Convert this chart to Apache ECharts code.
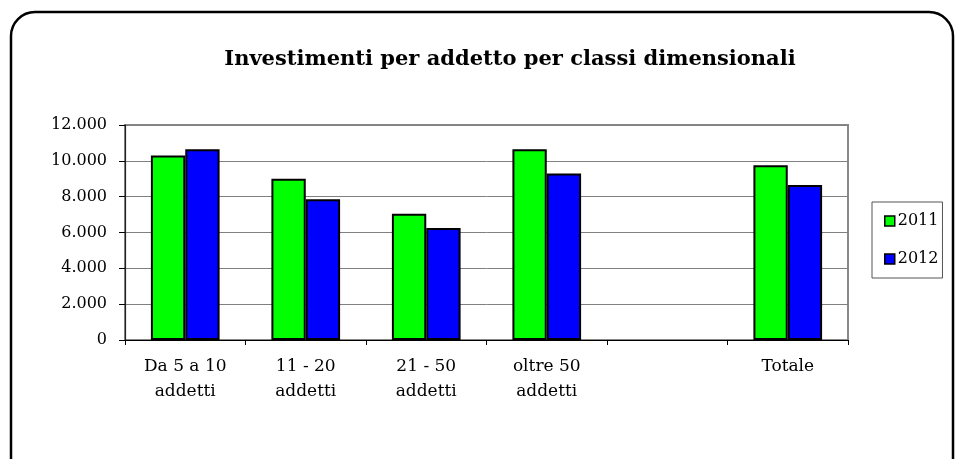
<!DOCTYPE html>
<html>
<head>
<meta charset="utf-8">
<script src="https://cdn.jsdelivr.net/npm/echarts@6/dist/echarts.min.js"></script>
<style>
  html, body { margin: 0; padding: 0; background: #fff; }
  #chart { width: 960px; height: 459px; }
</style>
</head>
<body>
<div id="chart"></div>
<script>
// categories (the empty one is a spacer column in the original chart)
const categories = ['Da 5 a 10\naddetti', '11 - 20\naddetti', '21 - 50\naddetti', 'oltre 50\naddetti', '', 'Totale'];
const values2011 = [10300, 9000, 7050, 10650, '-', 9750];
const values2012 = [10650, 7850, 6250, 9300, '-', 8650];
const yTicks = { min: 0, max: 12000, step: 2000 };

const fontFamily = '"DejaVu Serif", serif';

function fmtThousands(v) {
  return String(v).replace(/\B(?=(\d{3})+(?!\d))/g, '.');
}

const chart = echarts.init(document.getElementById('chart'));

chart.setOption({
  animation: false,
  backgroundColor: '#fff',
  textStyle: { fontFamily: fontFamily, color: '#000' },
  title: {
    text: 'Investimenti per addetto per classi dimensionali',
    left: 505,
    textAlign: 'center',
    top: 44,
    textStyle: { fontFamily: fontFamily, fontSize: 21, fontWeight: 'bold', color: '#000' }
  },
  graphic: [{
    type: 'rect',
    shape: { x: 11, y: 12, width: 942, height: 470, r: 24 },
    style: { fill: 'none', stroke: '#000', lineWidth: 2.5 },
    silent: true
  }],
  legend: {
    orient: 'vertical',
    left: 872,
    top: 202,
    padding: [11, 4, 11, 12],
    itemGap: 22,
    itemWidth: 10,
    itemHeight: 10,
    itemStyle: { borderColor: '#000', borderWidth: 1.5 },
    icon: 'rect',
    borderColor: '#555',
    borderWidth: 1,
    textStyle: { fontFamily: fontFamily, fontSize: 16, color: '#000', padding: [0, 0, 0, -2] },
    data: ['2011', '2012']
  },
  grid: {
    left: 125,
    right: 112,
    top: 125,
    bottom: 119,
    show: true,
    borderColor: '#888',
    borderWidth: 2,
    backgroundColor: '#fff'
  },
  xAxis: {
    type: 'category',
    data: categories,
    axisLine: { lineStyle: { color: '#000', width: 1.2 } },
    axisTick: { show: true, length: 5, lineStyle: { color: '#000' } },
    axisLabel: {
      fontFamily: fontFamily,
      fontSize: 17,
      color: '#000',
      lineHeight: 25,
      margin: 14,
      interval: 0
    }
  },
  yAxis: {
    type: 'value',
    min: yTicks.min,
    max: yTicks.max,
    interval: yTicks.step,
    axisLine: { show: true, lineStyle: { color: '#222', width: 1.2 } },
    axisTick: { show: true, length: 6, lineStyle: { color: '#000' } },
    splitLine: { lineStyle: { color: '#808080', width: 1 } },
    axisLabel: {
      fontFamily: fontFamily,
      fontSize: 16,
      color: '#000',
      margin: 18,
      formatter: fmtThousands
    }
  },
  series: [
    {
      name: '2011',
      type: 'bar',
      data: values2011,
      barGap: '0%',
      barCategoryGap: '43%',
      itemStyle: { color: '#00ff00', borderColor: '#000', borderWidth: 2 }
    },
    {
      name: '2012',
      type: 'bar',
      data: values2012,
      itemStyle: { color: '#0000ff', borderColor: '#000', borderWidth: 2 }
    }
  ]
});
</script>
</body>
</html>
